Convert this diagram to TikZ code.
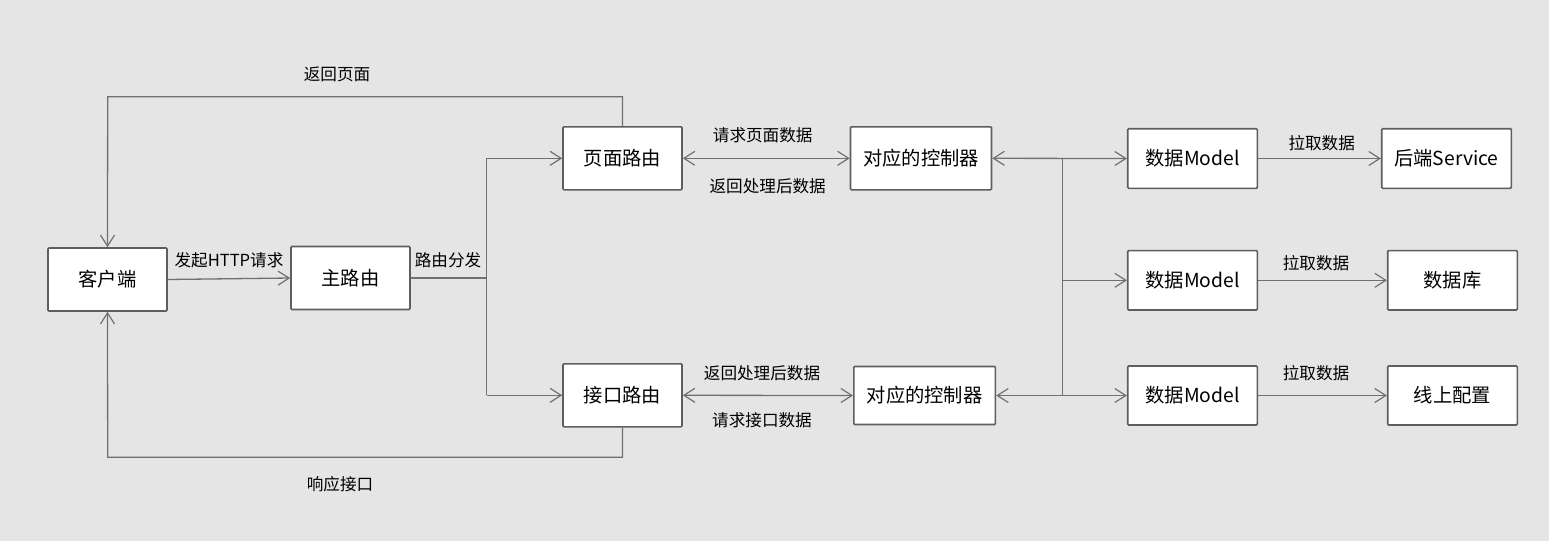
\documentclass[tikz,border=0pt]{standalone}
\usepackage{fontspec}
\setmainfont{Noto Sans CJK SC}
\usetikzlibrary{arrows.meta}
\definecolor{bgc}{HTML}{E5E5E5}
\definecolor{linec}{HTML}{707070}
\definecolor{boxc}{HTML}{5E5E5E}
\begin{document}
\begin{tikzpicture}[x=1pt,y=-1pt,
  box/.style={draw=boxc,line width=1.6pt,fill=white,rounded corners=1pt,inner sep=0pt,font=\fontsize{19.3}{21}\selectfont},
  conn/.style={draw=linec,line width=1.3pt},
  tipo/.style={-{Straight Barb[length=11pt,width=14pt,line width=1.2pt]}},
  tipb/.style={{Straight Barb[length=11pt,width=14pt,line width=1.2pt]}-{Straight Barb[length=11pt,width=14pt,line width=1.2pt]}},
  lbl/.style={font=\fontsize{16.6}{18}\selectfont,inner sep=0pt}]
\fill[bgc] (0,0) rectangle (1549,541);
\useasboundingbox (0,0) rectangle (1549,541);
% boxes
\node[box,minimum width=119pt,minimum height=63pt] (client) at (107.5,279.5) {客户端};
\node[box,minimum width=119pt,minimum height=63pt] (mainr) at (350.5,278) {主路由};
\node[box,minimum width=119pt,minimum height=63pt] (page) at (622.5,158.3) {页面路由};
\node[box,minimum width=119pt,minimum height=63pt] (api) at (622.5,395.3) {接口路由};
\node[box,minimum width=141pt,minimum height=63pt] (ctrl1) at (921,158.3) {对应的控制器};
\node[box,minimum width=141.6pt,minimum height=58pt] (ctrl2) at (924.6,395.5) {对应的控制器};
\node[box,minimum width=129.6pt,minimum height=59.6pt] (dm1) at (1192.5,158.5) {数据Model};
\node[box,minimum width=129.6pt,minimum height=59.3pt] (dm2) at (1192.5,280.3) {数据Model};
\node[box,minimum width=129.6pt,minimum height=59pt] (dm3) at (1192.5,395.5) {数据Model};
\node[box,minimum width=129.6pt,minimum height=59.6pt] (svc) at (1446.5,158.5) {后端Service};
\node[box,minimum width=129.6pt,minimum height=59.3pt] (db) at (1452.5,280.3) {数据库};
\node[box,minimum width=129.6pt,minimum height=59pt] (cfg) at (1452.5,395.5) {线上配置};
% coordinates
\coordinate (split) at (486.7,278);
\coordinate (splitT) at (486.7,158.3);
\coordinate (splitB) at (486.7,395.3);
\coordinate (topR) at (622.5,96.7);
\coordinate (topL) at (107.7,96.7);
\coordinate (botR) at (622.5,457.3);
\coordinate (botL) at (107.7,457.3);
\coordinate (busT) at (1062.7,158.3);
\coordinate (busM) at (1062.7,280.3);
\coordinate (busB) at (1062.7,395.5);
% connectors
\draw[conn,tipo] (client.east) -- (mainr.west);
\draw[conn] (mainr.east) -- (split);
\draw[conn] (splitT) -- (splitB);
\draw[conn,tipo] (splitT) -- (page.west);
\draw[conn,tipo] (splitB) -- (api.west);
\draw[conn,tipo] (page.north) -- (topR) -- (topL) -- (client.north);
\draw[conn,tipo] (api.south) -- (botR) -- (botL) -- (client.south);
\draw[conn,tipb] (page.east) -- (ctrl1.west);
\draw[conn,tipb] (api.east) -- (ctrl2.west);
\draw[conn,tipb] (ctrl1.east) -- (dm1.west);
\draw[conn,tipb] (ctrl2.east) -- (dm3.west);
\draw[conn] (busT) -- (busB);
\draw[conn,tipo] (busM) -- (dm2.west);
\draw[conn,tipo] (dm1.east) -- (svc.west);
\draw[conn,tipo] (dm2.east) -- (db.west);
\draw[conn,tipo] (dm3.east) -- (cfg.west);
% labels
\node[lbl] (l1) at (337,74) {返回页面};
\node[lbl] (l2) at (340,484) {响应接口};
\node[lbl] (l3) at (229,260) {发起HTTP请求};
\node[lbl] (l4) at (448,260) {路由分发};
\node[lbl] (l5) at (762.7,135) {请求页面数据};
\node[lbl] (l6) at (767.7,186) {返回处理后数据};
\node[lbl] (l7) at (762,373) {返回处理后数据};
\node[lbl] (l8) at (762,420) {请求接口数据};
\node[lbl] (l9) at (1321.7,143) {拉取数据};
\node[lbl] (l10) at (1316,263) {拉取数据};
\node[lbl] (l11) at (1316,373) {拉取数据};
\end{tikzpicture}
\end{document}
